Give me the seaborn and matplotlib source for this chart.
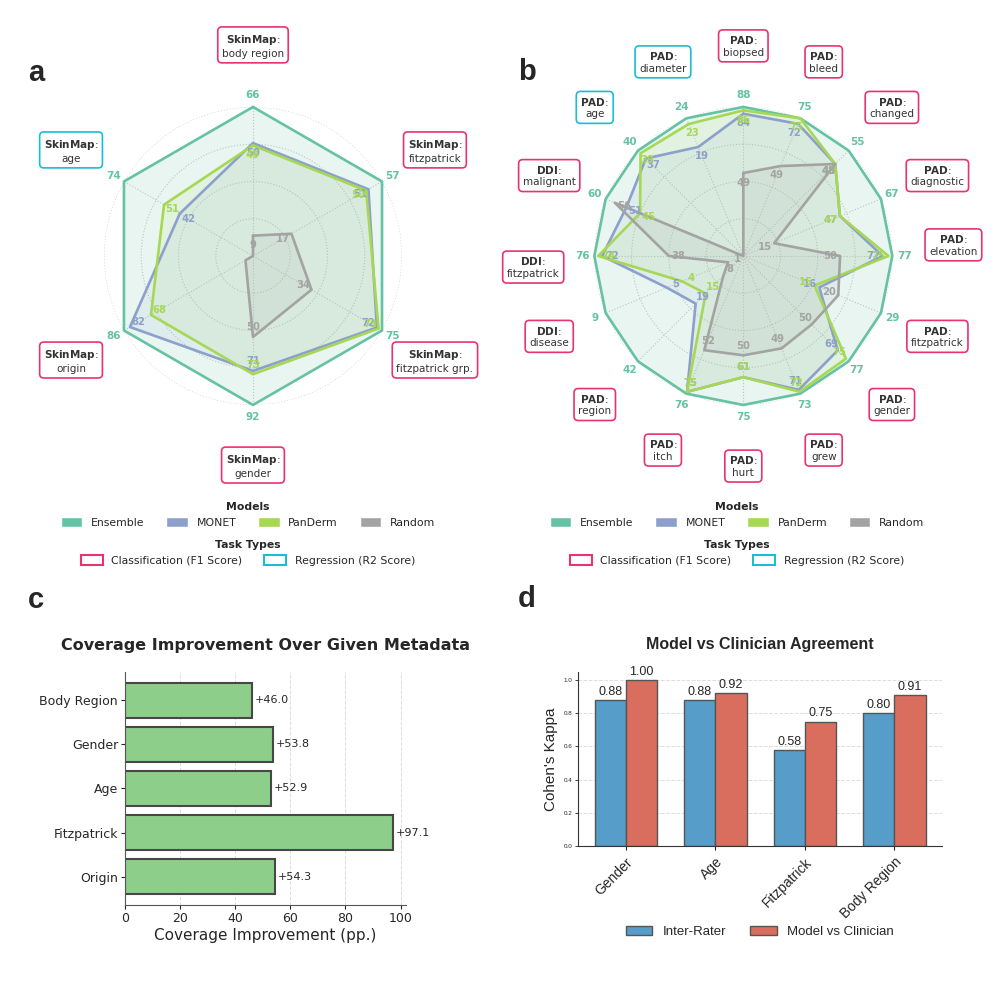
import numpy as np
import pandas as pd
import matplotlib
matplotlib.use("Agg")
import matplotlib.pyplot as plt
from matplotlib.patches import Patch
import seaborn as sns

# ---------------- data ----------------
# panel a: SkinMap tasks (clockwise from top)
skinmap_tasks = ["body region", "fitzpatrick", "fitzpatrick grp.", "gender", "origin", "age"]
skinmap_sources = ["SkinMap"] * 6
skinmap_types = ["cls", "cls", "cls", "cls", "cls", "reg"]
skinmap_ensemble = [66, 57, 75, 92, 86, 74]
skinmap_monet = [50, 51, 72, 71, 82, 42]
skinmap_panderm = [49, 50, 73, 73, 68, 51]
skinmap_random = [9, 17, 34, 50, 5, 0]

# panel b: PAD / DDI tasks (clockwise from top)
pad_tasks = ["biopsed", "bleed", "changed", "diagnostic", "elevation", "fitzpatrick",
             "gender", "grew", "hurt", "itch", "region", "disease", "fitzpatrick",
             "malignant", "age", "diameter"]
pad_sources = ["PAD"] * 11 + ["DDI"] * 3 + ["PAD"] * 2
pad_types = ["cls"] * 14 + ["reg"] * 2
pad_ensemble = [88, 75, 55, 67, 77, 29, 77, 73, 75, 76, 42, 9, 76, 60, 40, 24]
pad_monet = [84, 72, 48, 47, 72, 16, 69, 71, 61, 75, 19, 5, 72, 51, 37, 19]
pad_panderm = [86, 75, 48, 47, 75, 15, 75, 72, 61, 75, 15, 4, 74, 45, 39, 23]
pad_random = [49, 49, 48, 15, 50, 20, 50, 49, 50, 52, 8, 1, 38, 56, 0, 0]

# panel c
coverage_fields = ["Body Region", "Gender", "Age", "Fitzpatrick", "Origin"]
coverage_gain = [46.0, 53.8, 52.9, 97.1, 54.3]

# panel d
agree_fields = ["Gender", "Age", "Fitzpatrick", "Body Region"]
inter_rater = [0.88, 0.88, 0.58, 0.80]
model_vs_clinician = [1.00, 0.92, 0.75, 0.91]
kappa_ticks = [0.0, 0.2, 0.4, 0.6, 0.8, 1.0]

model_names = ["Ensemble", "MONET", "PanDerm", "Random"]
model_colors = {"Ensemble": "#66c2a5", "MONET": "#8da0cb",
                "PanDerm": "#a6d854", "Random": "#a3a3a3"}
type_colors = {"cls": "#e8336e", "reg": "#1bbcd4"}
type_names = {"cls": "Classification (F1 Score)", "reg": "Regression (R2 Score)"}

sns.set_style("ticks")
plt.rcParams["font.family"] = ["DejaVu Sans"]

fig = plt.figure(figsize=(9.96, 9.96), dpi=100)


def radar(ax, sources, tasks, types, scores):
    n = len(tasks)
    angles = np.linspace(0, 2 * np.pi, n, endpoint=False)
    ens = np.array(scores["Ensemble"], dtype=float)
    ax.set_theta_offset(np.pi / 2)
    ax.set_theta_direction(-1)
    ax.set_ylim(0, 1)
    ax.set_yticks([0.25, 0.5, 0.75, 1.0])
    ax.set_yticklabels([])
    ax.set_xticks(angles)
    ax.set_xticklabels([])
    ax.tick_params(length=0)
    ax.grid(True, color="#c8c8c8", linestyle=":", linewidth=0.8)
    ax.spines["polar"].set_visible(False)

    closed = np.append(angles, angles[0])
    for name in model_names:
        r = np.array(scores[name]) / ens
        rr = np.append(r, r[0])
        alpha = 0.15 if name == "Ensemble" else 0.1
        ax.fill(closed, rr, color=model_colors[name], alpha=alpha, zorder=2)
        ax.plot(closed, rr, color=model_colors[name], lw=1.9, zorder=3, clip_on=False)

    for name in model_names:
        for a, v, e in zip(angles, scores[name], ens):
            if name == "Ensemble":
                ax.text(a, 1.08, f"{v}", color=model_colors[name], fontsize=7.5,
                        fontweight="bold", ha="center", va="center", clip_on=False)
            else:
                rl = v / e - 0.065
                if rl > 0:
                    ax.text(a, rl, f"{v}", color=model_colors[name], fontsize=7.2,
                            fontweight="bold", ha="center", va="center", zorder=4)

    for a, src, task, t in zip(angles, sources, tasks, types):
        # nudge boxes that sit exactly on the horizontal axis
        dy = 0
        if np.isclose(np.sin(a), 1):
            dy = 8
        elif np.isclose(np.sin(a), -1):
            dy = -8
        ax.annotate(f"$\\mathbf{{{src}}}$:\n{task}", xy=(a, 1.41), xytext=(0, dy),
                    textcoords="offset points", ha="center", va="center",
                    fontsize=7.5, color="#333333", annotation_clip=False,
                    bbox=dict(boxstyle="round,pad=0.4", fc="white",
                              ec=type_colors[t], lw=1.2))


def radar_legends(xc):
    model_handles = [Patch(facecolor=model_colors[m], label=m) for m in model_names]
    fig.legend(handles=model_handles, title="Models", loc="center",
               bbox_to_anchor=(xc, 0.4834), ncol=4, frameon=False, fontsize=7.8,
               title_fontproperties={"weight": "bold", "size": 7.8},
               columnspacing=2.0, handletextpad=0.8, handlelength=2.0,
               handleheight=1.0)
    type_handles = [Patch(facecolor="white", edgecolor=type_colors[t], lw=1.5,
                          label=type_names[t]) for t in ["cls", "reg"]]
    fig.legend(handles=type_handles, title="Task Types", loc="center",
               bbox_to_anchor=(xc, 0.4448), ncol=2, frameon=False, fontsize=7.8,
               title_fontproperties={"weight": "bold", "size": 7.8},
               columnspacing=2.0, handletextpad=0.8, handlelength=2.0,
               handleheight=1.0)


# ---------------- panel a ----------------
ax_a = fig.add_axes([0.1044, 0.5934, 0.2992, 0.2992], projection="polar")
radar(ax_a, skinmap_sources, skinmap_tasks, skinmap_types,
      {"Ensemble": skinmap_ensemble, "MONET": skinmap_monet,
       "PanDerm": skinmap_panderm, "Random": skinmap_random})
radar_legends(0.249)

# ---------------- panel b ----------------
ax_b = fig.add_axes([0.5967, 0.5934, 0.2992, 0.2992], projection="polar")
radar(ax_b, pad_sources, pad_tasks, pad_types,
      {"Ensemble": pad_ensemble, "MONET": pad_monet,
       "PanDerm": pad_panderm, "Random": pad_random})
radar_legends(0.740)

# ---------------- panel c ----------------
ax_c = fig.add_axes([0.1255, 0.0914, 0.2821, 0.2339])
cov_df = pd.DataFrame({"Metadata": coverage_fields, "Improvement": coverage_gain})
sns.barplot(data=cov_df, x="Improvement", y="Metadata", ax=ax_c, color="#8dcf8a",
            saturation=1, edgecolor="#474747", linewidth=1.5, width=0.8)
ax_c.bar_label(ax_c.containers[0], labels=[f"+{v:.1f}" for v in coverage_gain],
               padding=2, fontsize=8)
ax_c.set_xlim(0, max(coverage_gain) * 1.05)
ax_c.set_ylim(len(coverage_fields) - 0.36, -0.64)
ax_c.grid(axis="x", linestyle="--", color="#dddddd", linewidth=0.7)
ax_c.set_axisbelow(True)
ax_c.set_ylabel("")
ax_c.set_xlabel("Coverage Improvement (pp.)", fontsize=11, labelpad=2)
ax_c.set_title("Coverage Improvement Over Given Metadata", fontsize=11.5,
               fontweight="bold", pad=16)
ax_c.tick_params(labelsize=9, length=3, width=0.8, pad=2)
sns.despine(ax=ax_c)
for s in ["left", "bottom"]:
    ax_c.spines[s].set_color("#555555")

# ---------------- panel d ----------------
arial = "Liberation Sans"
ax_d = fig.add_axes([0.5803, 0.1506, 0.3658, 0.1750])
agree_df = pd.DataFrame({
    "Metadata": agree_fields * 2,
    "Comparison": ["Inter-Rater"] * len(agree_fields) + ["Model vs Clinician"] * len(agree_fields),
    "Kappa": inter_rater + model_vs_clinician,
})
sns.barplot(data=agree_df, x="Metadata", y="Kappa", hue="Comparison", ax=ax_d,
            palette=["#569dca", "#d96e5f"], saturation=1, width=0.7,
            edgecolor="#555555", linewidth=1.0)
for cont in ax_d.containers:
    ax_d.bar_label(cont, fmt="%.2f", padding=1.5, fontsize=9, family=arial)
ax_d.set_ylim(0, 1.05)
ax_d.set_xlim(-0.535, len(agree_fields) - 0.465)
ax_d.set_yticks(kappa_ticks)
ax_d.set_yticklabels([f"{t:.1f}" for t in kappa_ticks], fontsize=4.5, family=arial)
ax_d.set_xticks(range(len(agree_fields)))
ax_d.set_xticklabels(agree_fields, rotation=45, ha="right", rotation_mode="anchor",
                     fontsize=10, family=arial)
ax_d.tick_params(axis="y", length=2, width=0.6, pad=2)
ax_d.tick_params(axis="x", length=3, width=0.8)
ax_d.grid(axis="y", linestyle="--", color="#dddddd", linewidth=0.7)
ax_d.set_axisbelow(True)
ax_d.set_xlabel("")
ax_d.set_ylabel("Cohen's Kappa", fontsize=11, family=arial)
ax_d.set_title("Model vs Clinician Agreement", fontsize=11.5, fontweight="bold",
               family=arial, pad=16)
handles, labels = ax_d.get_legend_handles_labels()
ax_d.get_legend().remove()
fig.legend(handles, labels, loc="center", bbox_to_anchor=(0.763, 0.0645),
           ncol=2, frameon=False, prop={"family": arial, "size": 9.5},
           columnspacing=1.8, handletextpad=0.8)
sns.despine(ax=ax_d)
for s in ["left", "bottom"]:
    ax_d.spines[s].set_color("#333333")

# ---------------- panel letters ----------------
for letter, x, y in [("a", 0.028, 0.927), ("b", 0.520, 0.928),
                     ("c", 0.028, 0.398), ("d", 0.520, 0.399)]:
    fig.text(x, y, letter, fontsize=21, fontweight="bold", family=arial,
             ha="left", va="center")

fig.savefig("out.png", dpi=100)
